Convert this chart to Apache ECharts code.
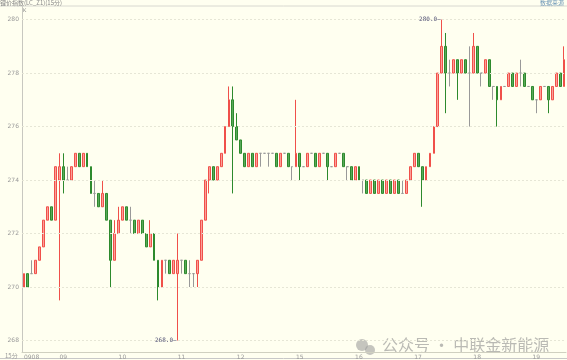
<!DOCTYPE html>
<html><head><meta charset="utf-8">
<script src="https://cdn.jsdelivr.net/npm/echarts@6/dist/echarts.min.js"></script>
<style>html,body{margin:0;padding:0;background:#fffff0}#c{width:567px;height:360px}</style>
</head><body><div id="c"></div>
<script>
// [open, close, low, high] per 15-min bar, one array per trading day
const day0908 = [[270,270.5,270,270.5],[270.5,270,270,270.5],[270.5,270.5,270.5,271],[270.5,271,270.5,271],[271,271.5,271,271.5],[271.5,272.5,271.5,272.5],[272.5,273,272.5,273],[273,272.5,272.5,273],[272.5,274.5,272.5,274.5]];
const day09 = [[274,274.5,269.5,275],[274.5,274,273.5,275],[274,274,274,274.5],[274,274.5,274,274.5],[274.5,275,274.5,275],[275,274.5,274.5,275],[274.5,275,274.5,275],[275,274.5,274.5,275],[274.5,273.5,273.5,274.5],[273.5,273.5,273,274],[273.5,273,273,273.5],[273,273.5,273,274],[273.5,272.5,272.5,273.5],[272.5,271,270,272.5],[271,272,271,272.5]];
const day10 = [[272,272.5,272,273],[272.5,273,272.5,273],[273,272.5,272.5,273],[272.5,272.5,272,273],[272.5,272,272,272.5],[272,272.5,272,272.5],[272.5,272,272,272.5],[272,271.5,271.5,272],[271.5,272,271.5,272.5],[272,271,271,272],[271,270,269.5,271],[270,271,270,271],[271,271,270.5,271],[271,270.5,270.5,271],[270.5,271,270.5,271]];
const day11 = [[270.5,271,268,272],[271,271,270.5,271],[271,270.5,270.5,271],[270.5,270.5,270,271],[270.5,270.5,270,270.5],[270.5,271,270,271],[271,272.5,271,272.5],[272.5,274,272.5,274],[274,274.5,273.5,274.5],[274.5,274,274,274.5],[274,274.5,274,274.5],[274.5,275,274.5,275],[275,276,275,276],[276,277,276,277.5],[277,276,273.5,277.5]];
const day12 = [[276,275.5,275.5,276.5],[275.5,275,275,275.5],[275,274.5,274.5,275],[274.5,275,274.5,275],[275,274.5,274.5,275],[274.5,275,274.5,275],[275,275,274.5,275],[275,275,275,275],[275,275,274.5,275],[275,275,275,275],[275,274.5,274.5,275],[274.5,275,274.5,275],[275,275,275,275],[275,274.5,274.5,275],[274.5,274.5,274,274.5]];
const day15 = [[274.5,275,274.5,277],[275,274.5,274,275],[274.5,274.5,274.5,274.5],[274.5,275,274.5,275],[275,275,275,275],[275,274.5,274.5,275],[274.5,275,274.5,275],[275,275,275,275],[275,274.5,274,275],[274.5,274.5,274.5,274.5],[274.5,275,274.5,275],[275,275,275,275],[275,274.5,274.5,275],[274.5,274.5,274,274.5],[274.5,274,274,274.5]];
const day16 = [[274,274.5,274,274.5],[274.5,274,274,274.5],[274,274,273.5,274],[274,273.5,273.5,274],[273.5,274,273.5,274],[274,273.5,273.5,274],[273.5,274,273.5,274],[274,273.5,273.5,274],[273.5,274,273.5,274],[274,273.5,273.5,274],[273.5,274,273.5,274],[274,273.5,273.5,274],[273.5,273.5,273.5,274],[273.5,274,273.5,274],[274,274.5,274,274.5]];
const day17 = [[274.5,275,274.5,275],[275,274.5,274.5,275],[274.5,274,273,274.5],[274,274.5,274,274.5],[274.5,275,274.5,275],[275,276,275,276],[276,278,276,278],[278,279,278,280],[279,278,276.5,279.5],[278,278,277.5,278.5],[278,278.5,278,278.5],[278.5,278,277,278.5],[278,278.5,278,278.5],[278.5,278,278,278.5],[278,278,276,279]];
const day18 = [[278,279,278,279.5],[279,278,278,279],[278,278,277.5,278],[278,278.5,278,278.5],[278.5,277.5,277.5,278.5],[277.5,277.5,277,277.5],[277.5,277,276,277.5],[277,277.5,277,277.5],[277.5,277.5,277.5,277.5],[277.5,278,277.5,278],[278,277.5,277.5,278],[277.5,278,277.5,278],[278,278,277.5,278.5],[278,277.5,277.5,278],[277.5,277.5,277.5,277.5]];
const day19 = [[277.5,277,277,277.5],[277,277,276.5,277],[277,277.5,277,277.5],[277.5,277.5,277.5,277.5],[277.5,277,276.5,277.5],[277,277.5,277,277.5],[277.5,278,277.5,278],[278,277.5,277.5,278],[277.5,278.5,277.5,279]];
const days = [day0908, day09, day10, day11, day12, day15, day16, day17, day18, day19];
const dayLabels = ['0908','09','10','11','12','15','16','17','18','19'];
const yTicks = [268,270,272,274,276,278,280];

const cats = [], data = [], labelAt = {};
days.forEach((d, k) => {
  labelAt[cats.length] = dayLabels[k];
  d.forEach((b, j) => { cats.push(k + '_' + j); data.push(b); });
});
let hiIdx = 0, loIdx = 0;
data.forEach((b, i) => { if (b[3] > data[hiIdx][3]) hiIdx = i; if (b[2] < data[loIdx][2]) loIdx = i; });

const chart = echarts.init(document.getElementById('c'));
chart.setOption({
  backgroundColor: '#fffff0',
  animation: false,
  grid: {left: 22, right: 1, top: 6.5, bottom: 8},
  xAxis: {
    type: 'category', data: cats, boundaryGap: true,
    axisLine: {lineStyle: {color: '#d0d0c0'}},
    axisTick: {show: false},
    splitLine: {show: false},
    axisLabel: {
      interval: (i) => labelAt[i] !== undefined,
      formatter: (v, i) => labelAt[i] || '',
      fontSize: 6, color: '#999', margin: 2, align: 'left',
      fontFamily: 'DejaVu Sans'
    }
  },
  yAxis: {
    type: 'value', min: 267.57, max: 280.49, scale: true,
    axisLine: {show: true, lineStyle: {color: '#c8c8c0'}},
    axisTick: {show: false},
    splitLine: {show: false},
    axisLabel: {customValues: yTicks, fontSize: 6, color: '#999', margin: 3, fontFamily: 'DejaVu Sans'}
  },
  series: [{
    type: 'candlestick', data: data, barWidth: '60%',
    itemStyle: {color: '#fb9f98', borderColor: '#f0504a', color0: '#5aa85a', borderColor0: '#2d8a2d', borderColorDoji: '#999999', borderWidth: 1},
    markLine: {
      silent: true, symbol: 'none', animation: false,
      lineStyle: {color: '#e6e6d6', type: [2, 2], width: 1},
      label: {show: false},
      data: yTicks.map(v => ({yAxis: v}))
    },
    markPoint: {
      symbol: 'rect', symbolSize: [0.1, 0.1], animation: false,
      label: {show: true, position: 'left', distance: 1, fontSize: 6, color: '#557', fontFamily: 'DejaVu Sans Mono',
        formatter: (p) => p.value.toFixed(1) + '—'},
      data: [
        {coord: [hiIdx, data[hiIdx][3]], value: data[hiIdx][3]},
        {coord: [loIdx, data[loIdx][2]], value: data[loIdx][2]}
      ]
    }
  }],
  graphic: [
    {type: 'line', shape: {x1: 0, y1: 6, x2: 567, y2: 6}, style: {stroke: '#d8d8d0', lineWidth: 1}},
    {type: 'line', shape: {x1: 0, y1: 358.5, x2: 567, y2: 358.5}, style: {stroke: '#c8c8c8', lineWidth: 1}},
    {type: 'text', left: 0, top: 0, style: {text: '锂价指数(LC_Z1)(15分)', fontSize: 6, fill: '#888', fontFamily: 'Noto Sans CJK SC'}},
    {type: 'text', left: 540, top: 0, style: {text: '数据来源', fontSize: 6, fill: '#6f98b8', fontFamily: 'Noto Sans CJK SC'}},
    {type: 'text', left: 23, top: 8, style: {text: 'K', fontSize: 5, fill: '#888', fontFamily: 'DejaVu Sans'}},
    {type: 'text', left: 5, top: 352.5, style: {text: '15分', fontSize: 6, fill: '#999', fontFamily: 'Noto Sans CJK SC'}},
    {type: 'circle', shape: {cx: 362, cy: 345, r: 6}, style: {fill: 'rgba(150,150,150,0.55)'}},
    {type: 'circle', shape: {cx: 370, cy: 350, r: 5}, style: {fill: 'rgba(150,150,150,0.55)'}},
    {type: 'text', left: 382, top: 337, style: {text: '公众号 · 中联金新能源', fontSize: 16, fill: 'rgba(140,140,140,0.6)', fontFamily: 'Noto Sans CJK SC'}}
  ]
});
</script></body></html>
